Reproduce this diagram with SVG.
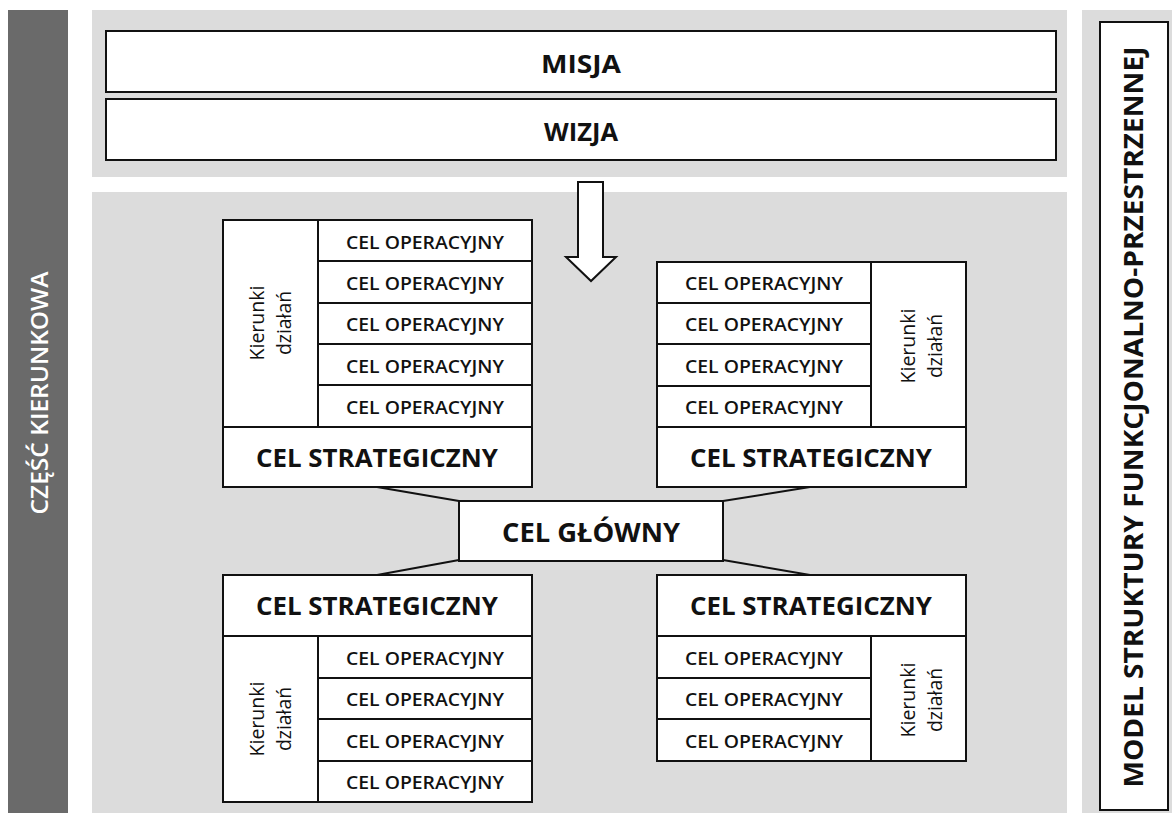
<svg xmlns="http://www.w3.org/2000/svg" width="1172" height="813" viewBox="0 0 1172 813">
<style>
.bg{fill:#dcdcdc}
.box{fill:#fff;stroke:#111;stroke-width:2}
.ln{stroke:#111;stroke-width:2;fill:none}
text{font-family:"Open Sans","Noto Sans","Liberation Sans",sans-serif;fill:#111;text-anchor:middle;dominant-baseline:central}
.op{font-size:18.5px;font-weight:600}
.st{font-size:25.5px;font-weight:700}
.big{font-size:25px;font-weight:700}
.kd{font-size:20px;font-weight:400}
</style>
<rect x="0" y="0" width="1172" height="813" fill="#fff"/>
<rect id="left-bar" x="8" y="10" width="60" height="803" fill="#6a6a6a"/>
<text x="38" y="393" transform="rotate(-90 38 393)" textLength="243" lengthAdjust="spacingAndGlyphs" style="font-size:24px;font-weight:600;fill:#fff">CZĘŚĆ KIERUNKOWA</text>
<rect class="bg" x="92" y="10" width="975" height="167"/>
<rect class="bg" x="92" y="192" width="975" height="621"/>
<rect class="bg" x="1082" y="10" width="90" height="803"/>

<g id="misja"><rect class="box" x="106" y="31" width="950" height="61"/><text class="big" x="581" y="63" textLength="80" lengthAdjust="spacingAndGlyphs">MISJA</text></g>
<g id="wizja"><rect class="box" x="106" y="99" width="950" height="61"/><text class="big" x="581" y="131" textLength="74" lengthAdjust="spacingAndGlyphs">WIZJA</text></g>

<g id="model"><rect class="box" x="1100" y="22" width="68" height="788"/><text x="1133" y="417" transform="rotate(-90 1133 417)" style="font-size:26px;font-weight:700" textLength="741" lengthAdjust="spacingAndGlyphs">MODEL STRUKTURY FUNKCJONALNO-PRZESTRZENNEJ</text></g>

<g id="arrow"><path class="box" d="M578 182 H603 V257 H616 L591 281 L566 257 H578 Z"/></g>

<g id="connectors">
<polyline class="ln" points="377,487 459,501"/>
<polyline class="ln" points="810,487 723,501"/>
<polyline class="ln" points="377,575 459,560"/>
<polyline class="ln" points="810,575 723,560"/>
</g>

<g id="cel-glowny"><rect class="box" x="459" y="501" width="264" height="60"/><text x="591" y="531" textLength="178" lengthAdjust="spacingAndGlyphs" style="font-size:27px;font-weight:700">CEL GŁÓWNY</text></g>

<g id="group-tl">
<rect class="box" x="223" y="220" width="309" height="267"/>
<line class="ln" x1="318" y1="220" x2="318" y2="427"/>
<line class="ln" x1="318" y1="261" x2="532" y2="261"/>
<line class="ln" x1="318" y1="303" x2="532" y2="303"/>
<line class="ln" x1="318" y1="344" x2="532" y2="344"/>
<line class="ln" x1="318" y1="385" x2="532" y2="385"/>
<line class="ln" x1="223" y1="427" x2="532" y2="427"/>
<text class="op" x="425" y="241" textLength="158" lengthAdjust="spacingAndGlyphs">CEL OPERACYJNY</text>
<text class="op" x="425" y="282" textLength="158" lengthAdjust="spacingAndGlyphs">CEL OPERACYJNY</text>
<text class="op" x="425" y="323.5" textLength="158" lengthAdjust="spacingAndGlyphs">CEL OPERACYJNY</text>
<text class="op" x="425" y="365" textLength="158" lengthAdjust="spacingAndGlyphs">CEL OPERACYJNY</text>
<text class="op" x="425" y="406" textLength="158" lengthAdjust="spacingAndGlyphs">CEL OPERACYJNY</text>
<text class="st" x="377" y="457" textLength="242" lengthAdjust="spacingAndGlyphs">CEL STRATEGICZNY</text>
<g transform="translate(270 323) rotate(-90)"><text class="kd" x="0" y="-14" textLength="75" lengthAdjust="spacingAndGlyphs">Kierunki</text><text class="kd" x="0" y="13" textLength="64" lengthAdjust="spacingAndGlyphs">działań</text></g>
</g>

<g id="group-tr">
<rect class="box" x="657" y="262" width="309" height="225"/>
<line class="ln" x1="871" y1="262" x2="871" y2="427"/>
<line class="ln" x1="657" y1="303" x2="871" y2="303"/>
<line class="ln" x1="657" y1="344" x2="871" y2="344"/>
<line class="ln" x1="657" y1="386" x2="871" y2="386"/>
<line class="ln" x1="657" y1="427" x2="966" y2="427"/>
<text class="op" x="764" y="282.5" textLength="158" lengthAdjust="spacingAndGlyphs">CEL OPERACYJNY</text>
<text class="op" x="764" y="323.5" textLength="158" lengthAdjust="spacingAndGlyphs">CEL OPERACYJNY</text>
<text class="op" x="764" y="365" textLength="158" lengthAdjust="spacingAndGlyphs">CEL OPERACYJNY</text>
<text class="op" x="764" y="406.5" textLength="158" lengthAdjust="spacingAndGlyphs">CEL OPERACYJNY</text>
<text class="st" x="811" y="457" textLength="242" lengthAdjust="spacingAndGlyphs">CEL STRATEGICZNY</text>
<g transform="translate(920 346) rotate(-90)"><text class="kd" x="0" y="-13" textLength="75" lengthAdjust="spacingAndGlyphs">Kierunki</text><text class="kd" x="0" y="14" textLength="64" lengthAdjust="spacingAndGlyphs">działań</text></g>
</g>

<g id="group-bl">
<rect class="box" x="223" y="575" width="309" height="227"/>
<line class="ln" x1="223" y1="636" x2="532" y2="636"/>
<line class="ln" x1="318" y1="636" x2="318" y2="802"/>
<line class="ln" x1="318" y1="678" x2="532" y2="678"/>
<line class="ln" x1="318" y1="719" x2="532" y2="719"/>
<line class="ln" x1="318" y1="761" x2="532" y2="761"/>
<text class="st" x="377" y="605" textLength="242" lengthAdjust="spacingAndGlyphs">CEL STRATEGICZNY</text>
<text class="op" x="425" y="657" textLength="158" lengthAdjust="spacingAndGlyphs">CEL OPERACYJNY</text>
<text class="op" x="425" y="698.5" textLength="158" lengthAdjust="spacingAndGlyphs">CEL OPERACYJNY</text>
<text class="op" x="425" y="740" textLength="158" lengthAdjust="spacingAndGlyphs">CEL OPERACYJNY</text>
<text class="op" x="425" y="781.5" textLength="158" lengthAdjust="spacingAndGlyphs">CEL OPERACYJNY</text>
<g transform="translate(270 719) rotate(-90)"><text class="kd" x="0" y="-14" textLength="75" lengthAdjust="spacingAndGlyphs">Kierunki</text><text class="kd" x="0" y="13" textLength="64" lengthAdjust="spacingAndGlyphs">działań</text></g>
</g>

<g id="group-br">
<rect class="box" x="657" y="575" width="309" height="186"/>
<line class="ln" x1="657" y1="636" x2="966" y2="636"/>
<line class="ln" x1="871" y1="636" x2="871" y2="761"/>
<line class="ln" x1="657" y1="678" x2="871" y2="678"/>
<line class="ln" x1="657" y1="719" x2="871" y2="719"/>
<text class="st" x="811" y="605" textLength="242" lengthAdjust="spacingAndGlyphs">CEL STRATEGICZNY</text>
<text class="op" x="764" y="657" textLength="158" lengthAdjust="spacingAndGlyphs">CEL OPERACYJNY</text>
<text class="op" x="764" y="698.5" textLength="158" lengthAdjust="spacingAndGlyphs">CEL OPERACYJNY</text>
<text class="op" x="764" y="740" textLength="158" lengthAdjust="spacingAndGlyphs">CEL OPERACYJNY</text>
<g transform="translate(920 700) rotate(-90)"><text class="kd" x="0" y="-13" textLength="75" lengthAdjust="spacingAndGlyphs">Kierunki</text><text class="kd" x="0" y="14" textLength="64" lengthAdjust="spacingAndGlyphs">działań</text></g>
</g>
</svg>
